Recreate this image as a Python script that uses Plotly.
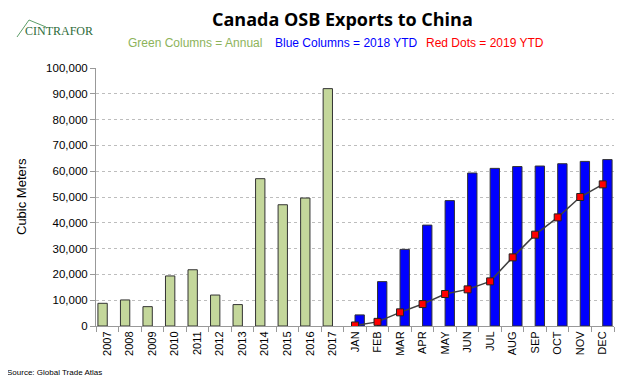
import plotly.graph_objects as go

years = ["2007", "2008", "2009", "2010", "2011", "2012", "2013", "2014", "2015", "2016", "2017"]
months = ["JAN", "FEB", "MAR", "APR", "MAY", "JUN", "JUL", "AUG", "SEP", "OCT", "NOV", "DEC"]
annual = [8800, 10100, 7500, 19400, 21800, 12000, 8300, 57100, 47000, 49600, 92000]
ytd_2018 = [4300, 17200, 29700, 39100, 48600, 59300, 61100, 61800, 62000, 62900, 63800, 64500]
ytd_2019 = [200, 1600, 5300, 8500, 12400, 14200, 17300, 26600, 35400, 42100, 50000, 54900]

cats = years + months
OFF = 8  # page body margin
W, H = 640 - OFF, 378 - OFF
L, R, T, B = 96, 614, 68, 326  # plot area in reference (window) pixels

def px(x):
    return (x - L) / (R - L)

def py(y):
    return (B - y) / (B - T)

fig = go.Figure()
fig.add_trace(go.Bar(
    x=cats, y=annual + [None] * len(months),
    marker=dict(color="#C4D79B", line=dict(color="#333333", width=1)),
    name="Annual"))
fig.add_trace(go.Bar(
    x=cats, y=[None] * len(years) + ytd_2018,
    marker=dict(color="#0000FF", line=dict(color="#333333", width=1)),
    name="2018 YTD"))
fig.add_trace(go.Scatter(
    x=months, y=ytd_2019, mode="lines+markers",
    line=dict(color="#404040", width=1.5),
    marker=dict(symbol="square", size=7, color="#FF0000", line=dict(color="#222222", width=1)),
    name="2019 YTD"))

font = "Liberation Sans, Arial, sans-serif"
fig.update_layout(
    width=W, height=H,
    margin=dict(l=L - OFF, r=W - (R - OFF), t=T - OFF, b=H - (B - OFF)),
    paper_bgcolor="white", plot_bgcolor="white",
    barmode="group", bargap=0.17, bargroupgap=0,
    showlegend=False,
    font=dict(family=font, size=11, color="#000000"),
    xaxis=dict(
        type="category", categoryorder="array", categoryarray=cats,
        tickangle=-90, ticks="outside", tickson="boundaries", ticklen=5,
        tickcolor="#999999", showline=True, linecolor="#999999", linewidth=1,
        showgrid=False, tickfont=dict(size=11, family=font),
        range=[-0.5, len(cats) - 0.5]),
    yaxis=dict(
        range=[0, 100000], dtick=10000, tickformat=",", ticks="outside",
        ticklen=5, tickcolor="#999999", showline=True, linecolor="#999999",
        linewidth=1, showgrid=True, gridcolor="#BDBDBD", griddash="dot",
        gridwidth=1, zeroline=False, tickfont=dict(size=11.5, family=font)),
)

ann = []
ann.append(dict(text="<b>Canada OSB Exports to China</b>", xref="paper", yref="paper",
                x=px(342), y=py(19), xanchor="center", yanchor="middle", showarrow=False,
                font=dict(family="Open Sans, sans-serif", size=18, color="black")))
for txt, cx, col in [("Green Columns = Annual", 194.5, "#8DB35A"),
                     ("Blue Columns = 2018 YTD", 346, "#0000FF"),
                     ("Red Dots = 2019 YTD", 485, "#FF0000")]:
    ann.append(dict(text=txt, xref="paper", yref="paper", x=px(cx), y=py(43),
                    xanchor="center", yanchor="middle", showarrow=False,
                    font=dict(family=font, size=12, color=col)))
ann.append(dict(text="Cubic Meters", xref="paper", yref="paper", x=px(21), y=py(197),
                xanchor="center", yanchor="middle", textangle=-90, showarrow=False,
                font=dict(family=font, size=13, color="black")))
ann.append(dict(text="Source: Global Trade Atlas", xref="paper", yref="paper", x=px(5), y=py(372),
                xanchor="left", yanchor="middle", showarrow=False,
                font=dict(family=font, size=8, color="black")))
ann.append(dict(text="CINTRAFOR", xref="paper", yref="paper", x=px(59), y=py(31),
                xanchor="center", yanchor="middle", showarrow=False,
                font=dict(family="Liberation Serif, serif", size=12, color="#2E6B3A")))
fig.update_layout(annotations=ann)

fig.add_shape(type="path", xref="paper", yref="paper",
              path=f"M {px(17)},{py(37)} L {px(29)},{py(20)} L {px(46)},{py(27)}",
              line=dict(color="#5E9E6A", width=1))

fig.write_html("out.html")
